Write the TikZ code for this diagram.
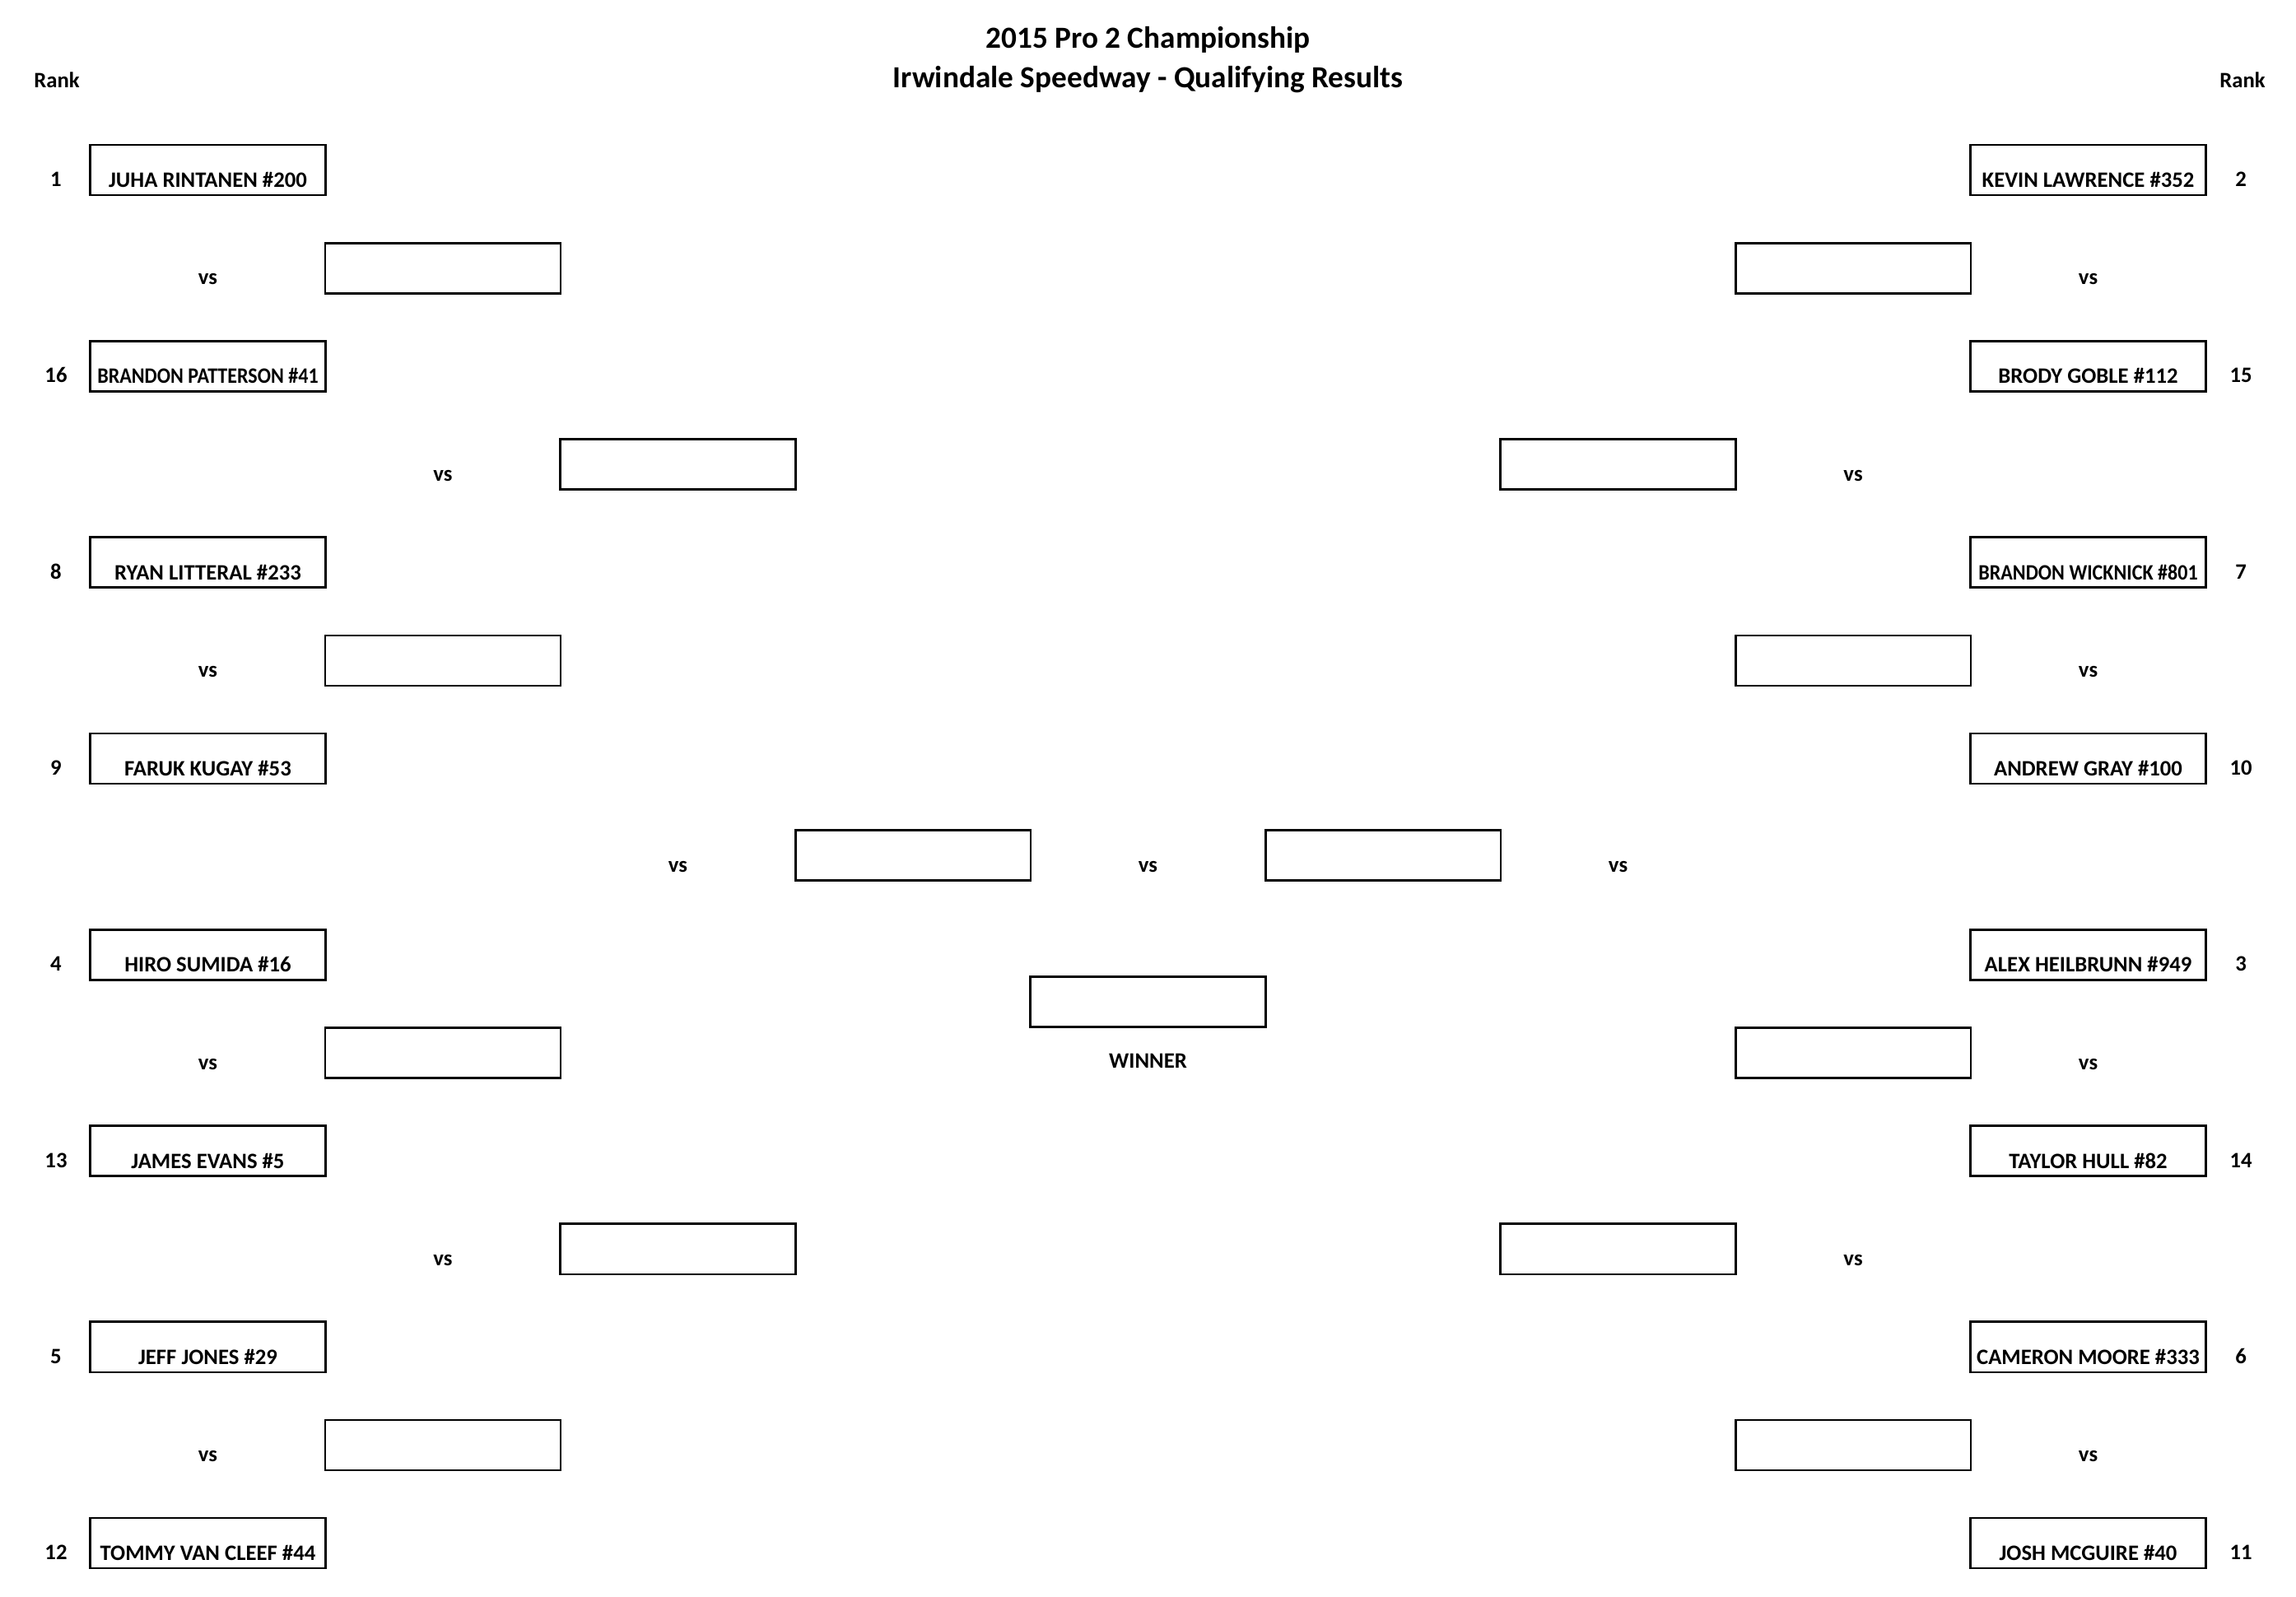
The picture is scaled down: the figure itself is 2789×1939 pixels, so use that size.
\documentclass[tikz,border=0pt]{standalone}
\usepackage{graphicx}
\usepackage{fontspec}
\setmainfont{Carlito}
\newcommand{\namefont}{\bfseries\fontsize{7.6}{8.8}\selectfont}
\newcommand{\titlefont}{\bfseries\fontsize{10.6}{12}\selectfont}
\newcommand{\squeeze}[1]{\scalebox{0.9}[1]{#1}}
\begin{document}
\begin{tikzpicture}[x=0.01cm,y=-0.01cm]
\tikzset{
  slot/.style={draw, line width=0.75pt, minimum width=2.855cm, minimum height=0.61cm,
    inner sep=0pt, outer sep=0pt},
  namebox/.style={slot, font=\namefont, text height=0.5cm, text depth=0.08cm},
  lbl/.style={font=\namefont, anchor=base, inner sep=0pt},
  ttl/.style={font=\titlefont, anchor=base, inner sep=0pt},
}
\useasboundingbox (0,0) rectangle (2789,1939);
% titles
\node[ttl] (t1) at (1394.5,58) {2015 Pro 2 Championship};
\node[ttl] (t2) at (1394.5,106) {Irwindale Speedway - Qualifying Results};
\node[lbl] (rankL) at (69,106) {Rank};
\node[lbl] (rankR) at (2724,106) {Rank};
% left entrants
\foreach \r/\nm [count=\i from 0] in {1/JUHA RINTANEN \#200, 16/\squeeze{BRANDON PATTERSON \#41},
  8/RYAN LITTERAL \#233, 9/FARUK KUGAY \#53, 4/HIRO SUMIDA \#16, 13/JAMES EVANS \#5,
  5/JEFF JONES \#29, 12/TOMMY VAN CLEEF \#44}{
  \pgfmathsetmacro{\ty}{176+238.3*\i}
  \node[namebox] (L\i) at (252.5,\ty+30.5) {\nm};
  \node[lbl] (LR\i) at (68,\ty+50.5) {\r};
}
% right entrants
\foreach \r/\nm [count=\i from 0] in {2/KEVIN LAWRENCE \#352, 15/BRODY GOBLE \#112,
  7/\squeeze{BRANDON WICKNICK \#801}, 10/ANDREW GRAY \#100, 3/ALEX HEILBRUNN \#949, 14/TAYLOR HULL \#82,
  6/CAMERON MOORE \#333, 11/JOSH MCGUIRE \#40}{
  \pgfmathsetmacro{\ty}{176+238.3*\i}
  \node[namebox] (R\i) at (2536.5,\ty+30.5) {\nm};
  \node[lbl] (RR\i) at (2722,\ty+50.5) {\r};
}
% round 1
\foreach \k in {0,1,2,3}{
  \pgfmathsetmacro{\ty}{295.3+476.6*\k}
  \node[slot] (A\k) at (538,\ty+30.5) {};
  \node[lbl] (Av\k) at (252.5,\ty+50.5) {vs};
  \node[slot] (B\k) at (2251,\ty+30.5) {};
  \node[lbl] (Bv\k) at (2536.5,\ty+50.5) {vs};
}
% round 2
\foreach \k in {0,1}{
  \pgfmathsetmacro{\ty}{533.6+953.2*\k}
  \node[slot] (C\k) at (823.5,\ty+30.5) {};
  \node[lbl] (Cv\k) at (538,\ty+50.5) {vs};
  \node[slot] (D\k) at (1965.5,\ty+30.5) {};
  \node[lbl] (Dv\k) at (2251,\ty+50.5) {vs};
}
% semifinals
\node[slot] (SL) at (1109,1039) {};
\node[lbl] (SLv) at (823.5,1059) {vs};
\node[slot] (SR) at (1680,1039) {};
\node[lbl] (SRv) at (1965.5,1059) {vs};
\node[lbl] (Fv) at (1394.5,1059) {vs};
% winner
\node[slot] (W) at (1394.5,1217) {};
\node[lbl] (Wt) at (1394.5,1297) {WINNER};
\end{tikzpicture}
\end{document}
